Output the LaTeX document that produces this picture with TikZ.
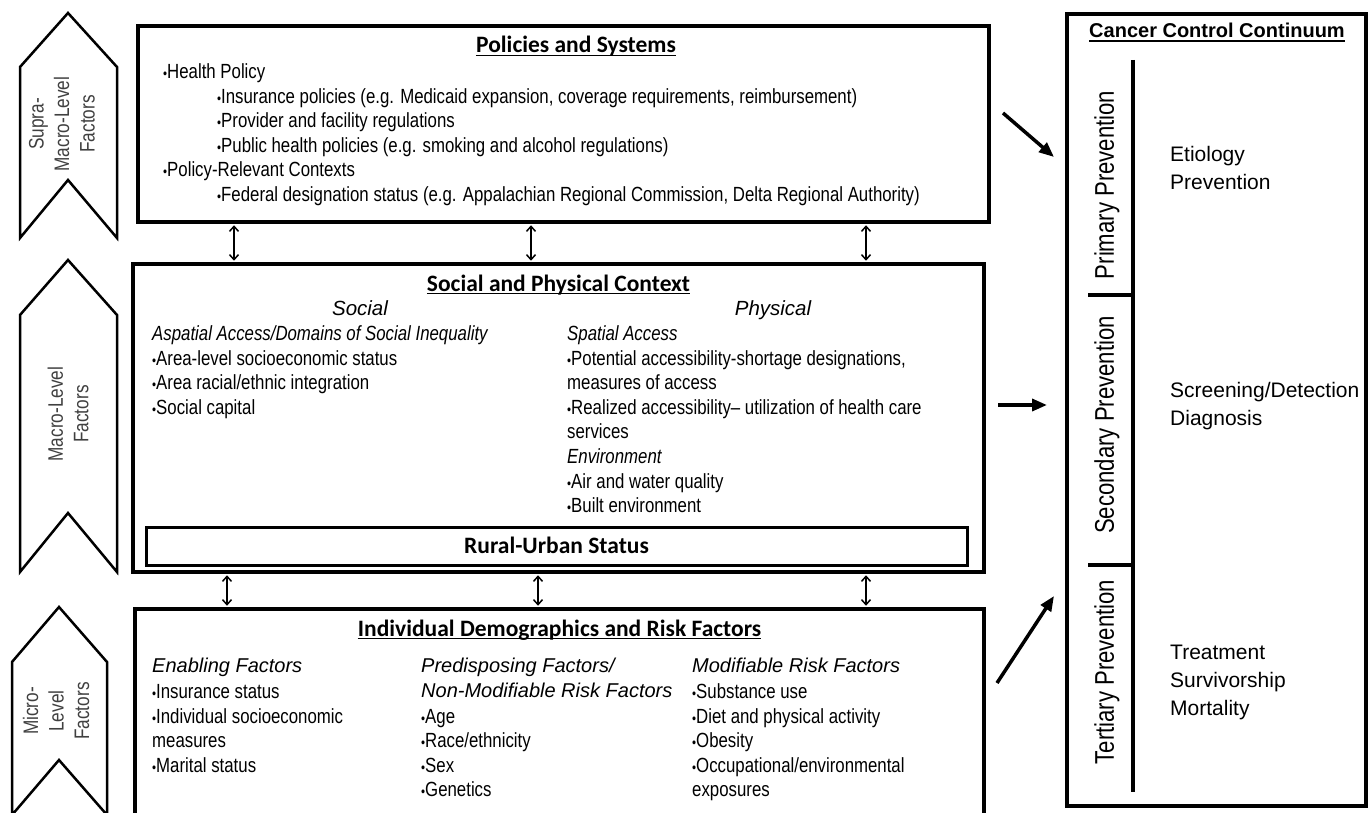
\documentclass[tikz,border=0pt]{standalone}
\usepackage{fontspec}
\usetikzlibrary{arrows.meta}
\newfontfamily\nar{Liberation Sans}[FakeStretch=0.82]
\newfontfamily\reg{Liberation Sans}
\newfontfamily\calfont{Carlito}
\newcommand\bult{{\fontsize{14}{14}\selectfont •}}
\begin{document}
\begin{tikzpicture}[x=1pt,y=-1pt,
  box/.style={draw, line width=3.5pt, inner sep=0pt},
  bl/.style={anchor=base west, inner sep=0pt, font=\nar\fontsize{20.5}{24}\selectfont},
  sub/.style={anchor=base west, inner sep=0pt, font=\nar\itshape\fontsize{20.5}{24}\selectfont},
  hd/.style={anchor=base west, inner sep=0pt, font=\reg\itshape\fontsize{20}{24}\selectfont},
  hdc/.style={anchor=base, inner sep=0pt, font=\reg\itshape\fontsize{20.5}{24}\selectfont},
  ttl/.style={anchor=base, inner sep=0pt, font=\calfont\bfseries\fontsize{23.5}{28}\selectfont},
  ttlb/.style={anchor=base, inner sep=0pt, font=\reg\bfseries\fontsize{20}{24}\selectfont},
  rl/.style={anchor=base west, inner sep=0pt, font=\reg\fontsize{21}{28}\selectfont},
  rot/.style={rotate=90, inner sep=0pt, font=\nar\fontsize{27}{30}\selectfont},
  chevtxt/.style={rotate=90, inner sep=0pt, align=center, text=black!75, font=\nar\fontsize{21}{25.5}\selectfont},
  chev/.style={draw, line width=2.5pt, line join=miter},
  uline/.style={line width=1.4pt},
  dbl/.style={line width=1.5pt, {Straight Barb[length=5pt,width=9pt]}-{Straight Barb[length=5pt,width=9pt]}, shorten <=1.5pt, shorten >=1.5pt},
  big/.style={line width=3.5pt, -{Triangle[length=15pt,width=12pt]}}
]
\useasboundingbox (0,0) rectangle (1371,813);
\clip (0,0) rectangle (1371,813);
\fill[white] (0,0) rectangle (1371,813);

% chevrons
\draw[chev] (20,67) -- (68,13) -- (117,67) -- (117,238) -- (68,180) -- (20,238) -- cycle;
\draw[chev] (20,315) -- (68,260) -- (117,315) -- (117,572) -- (68,513) -- (20,572) -- cycle;
\draw[chev] (12,662) -- (59,607) -- (107,662) -- (107,815) -- (59,760) -- (12,815) -- cycle;
\node[chevtxt] (c1) at (62,124) {Supra-\\Macro-Level\\Factors};
\node[chevtxt] (c2) at (68,414) {Macro-Level\\Factors};
\node[chevtxt] (c3) at (56,711) {Micro-\\Level\\Factors};

% boxes
\node[box, minimum width=851pt, minimum height=196pt] (top) at (563.5,124) {};
\node[box, minimum width=851pt, minimum height=308pt] (mid) at (558.5,418) {};
\node[box, line width=3pt, minimum width=821pt, minimum height=38pt] (rural) at (556.5,546) {};
\node[box, minimum width=849pt, minimum height=226pt] (bot) at (559.5,722) {};
\node[box, line width=4pt, minimum width=299pt, minimum height=792pt] (ccc) at (1216.5,410) {};

% top box text
\node[ttl] (pt) at (576,53) {Policies and Systems};
\draw[uline] ([yshift=-2.5pt]pt.base west) -- ([yshift=-2.5pt]pt.base east);
\node[bl] (p1) at (163,79) {\bult Health Policy};
\node[bl] (p2) at (217,104) {\bult Insurance policies (e.g. Medicaid expansion, coverage requirements, reimbursement)};
\node[bl] (p3) at (217,128) {\bult Provider and facility regulations};
\node[bl] (p4) at (217,153) {\bult Public health policies (e.g. smoking and alcohol regulations)};
\node[bl] (p5) at (163,177) {\bult Policy-Relevant Contexts};
\node[bl] (p6) at (217,202) {\bult Federal designation status (e.g. Appalachian Regional Commission, Delta Regional Authority)};

% middle box text
\node[ttl] (st) at (558.5,291) {Social and Physical Context};
\draw[uline] ([yshift=-2.5pt]st.base west) -- ([yshift=-2.5pt]st.base east);
\node[hdc] (soc) at (360,315) {Social};
\node[hdc] (phy) at (773,315) {Physical};
\node[sub] (s1) at (152,340) {Aspatial Access/Domains of Social Inequality};
\node[bl] (s2) at (152,365) {\bult Area-level socioeconomic status};
\node[bl] (s3) at (152,389) {\bult Area racial/ethnic integration};
\node[bl] (s4) at (152,414) {\bult Social capital};
\node[sub] (q1) at (567,340) {Spatial Access};
\node[bl] (q2) at (567,365) {\bult Potential accessibility-shortage designations,};
\node[bl] (q3) at (567,389) {measures of access};
\node[bl] (q4) at (567,414) {\bult Realized accessibility– utilization of health care};
\node[bl] (q5) at (567,438) {services};
\node[sub] (q6) at (567,463) {Environment};
\node[bl] (q7) at (567,488) {\bult Air and water quality};
\node[bl] (q8) at (567,512) {\bult Built environment};
\node[ttl] (rt) at (556.5,553) {Rural-Urban Status};

% bottom box text
\node[ttl] (it) at (559.5,636) {Individual Demographics and Risk Factors};
\draw[uline] ([yshift=-2.5pt]it.base west) -- ([yshift=-2.5pt]it.base east);
\node[hd] (e0) at (152,672) {Enabling Factors};
\node[bl] (e1) at (152,698) {\bult Insurance status};
\node[bl] (e2) at (152,723) {\bult Individual socioeconomic};
\node[bl] (e3) at (152,747) {measures};
\node[bl] (e4) at (152,772) {\bult Marital status};
\node[hd] (d0) at (421,672) {Predisposing Factors/};
\node[hd] (d1) at (421,697) {Non-Modifiable Risk Factors};
\node[bl] (d2) at (421,723) {\bult Age};
\node[bl] (d3) at (421,747) {\bult Race/ethnicity};
\node[bl] (d4) at (421,772) {\bult Sex};
\node[bl] (d5) at (421,796) {\bult Genetics};
\node[hd] (m0) at (692,672) {Modifiable Risk Factors};
\node[bl] (m1) at (692,698) {\bult Substance use};
\node[bl] (m2) at (692,723) {\bult Diet and physical activity};
\node[bl] (m3) at (692,747) {\bult Obesity};
\node[bl] (m4) at (692,772) {\bult Occupational/environmental};
\node[bl] (m5) at (692,796) {exposures};

% right box
\node[ttlb] (ct) at (1217,38) {Cancer Control Continuum};
\draw[uline] ([yshift=-3pt]ct.base west) -- ([yshift=-3pt]ct.base east);
\coordinate (vt) at (1133,60);
\coordinate (vb) at (1133,792);
\draw[line width=4pt] (vt) -- (vb);
\coordinate (k1) at (1088,295);
\coordinate (k2) at (1088,565);
\draw[line width=3.5pt] (k1) -- (k1 -| vt);
\draw[line width=3.5pt] (k2) -- (k2 -| vt);
\node[rot] (pp) at (1107,185) {Primary Prevention};
\node[rot] (sp) at (1107,425) {Secondary Prevention};
\node[rot] (tp) at (1107,672) {Tertiary Prevention};
\node[rl] (r1) at (1170,162) {Etiology};
\node[rl] (r2) at (1170,190) {Prevention};
\node[rl] (r3) at (1170,397) {Screening/Detection};
\node[rl] (r4) at (1170,425) {Diagnosis};
\node[rl] (r5) at (1170,659) {Treatment};
\node[rl] (r6) at (1170,687) {Survivorship};
\node[rl] (r7) at (1170,715) {Mortality};

% double arrows
\coordinate (u1) at (234,0);
\coordinate (u2) at (531,0);
\coordinate (u3) at (866,0);
\coordinate (w1) at (227,0);
\coordinate (w2) at (538,0);
\coordinate (w3) at (866,0);
\draw[dbl] (top.south -| u1) -- (mid.north -| u1);
\draw[dbl] (top.south -| u2) -- (mid.north -| u2);
\draw[dbl] (top.south -| u3) -- (mid.north -| u3);
\draw[dbl] (mid.south -| w1) -- (bot.north -| w1);
\draw[dbl] (mid.south -| w2) -- (bot.north -| w2);
\draw[dbl] (mid.south -| w3) -- (bot.north -| w3);

% big arrows
\coordinate (a1s) at (1003,113);
\coordinate (a1e) at (1054,157);
\coordinate (a2s) at (998,405);
\coordinate (a2e) at (1047,405);
\coordinate (a3s) at (997,683);
\coordinate (a3e) at (1054,596);
\draw[big] (a1s) -- (a1e);
\draw[big] (a2s) -- (a2e);
\draw[big] (a3s) -- (a3e);
\end{tikzpicture}
\end{document}
